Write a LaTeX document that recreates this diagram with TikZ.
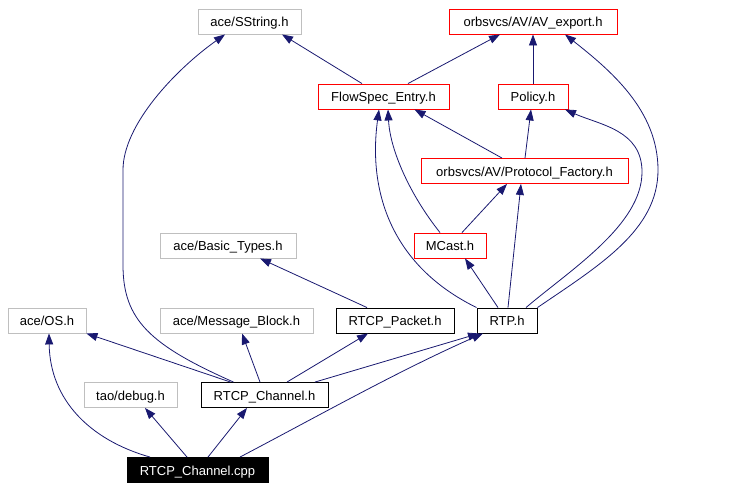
\documentclass[tikz,border=0pt]{standalone}
\usepackage{fontspec}
\setmainfont{Liberation Sans}
\usepackage{tikz}
\usetikzlibrary{arrows,arrows.meta}
\definecolor{edgeblue}{HTML}{191970}
\definecolor{boxgray}{HTML}{BFBFBF}
\tikzstyle{file} = [rectangle, minimum height=25pt, inner sep=0pt, text height=10.5pt, text depth=0pt, text centered, font=\fontsize{13}{15}\selectfont, line width=0.9pt]
\tikzstyle{sysfile} = [file, draw=boxgray]
\tikzstyle{avfile} = [file, draw=red]
\tikzstyle{localfile} = [file, draw=black]
\tikzstyle{thisfile} = [file, draw=black, fill=black, text=white]
\tikzstyle{arrow} = [edgeblue, line width=0.8pt, -{Triangle[length=11pt,width=8pt]}]

\begin{document}
\begin{tikzpicture}[x=1pt, y=-1pt]
    \useasboundingbox (0,0) rectangle (735,490);

    \node (sstring) [sysfile, minimum width=103pt] at (249.5,21.5) {ace/SString.h};
    \node (avexp) [avfile, minimum width=168pt] at (533,21.5) {orbsvcs/AV/AV\_export.h};

    \node (flowspec) [avfile, minimum width=131pt] at (383.5,96.5) {FlowSpec\_Entry.h};
    \node (policy) [avfile, minimum width=70pt] at (533,96.5) {Policy.h};

    \node (protfac) [avfile, minimum width=207pt] at (524.5,171) {orbsvcs/AV/Protocol\_Factory.h};

    \node (basic) [sysfile, minimum width=136pt] at (228,245.5) {ace/Basic\_Types.h};
    \node (mcast) [avfile, minimum width=72pt] at (450,245.5) {MCast.h};

    \node (os) [sysfile, minimum width=78pt] at (47,320.5) {ace/OS.h};
    \node (msgblk) [sysfile, minimum width=153pt] at (236.5,320.5) {ace/Message\_Block.h};
    \node (rtcppkt) [localfile, minimum width=118pt] at (395,320.5) {RTCP\_Packet.h};
    \node (rtp) [localfile, minimum width=60pt] at (507,320.5) {RTP.h};

    \node (debug) [sysfile, minimum width=93pt] at (130.5,395) {tao/debug.h};
    \node (rtcpch) [localfile, minimum width=127pt] at (264.5,395) {RTCP\_Channel.h};

    \node (cpp) [thisfile, minimum width=141pt] at (197.5,470) {RTCP\_Channel.cpp};

    % top rows
    \draw[arrow] ([xshift=-21.5pt]flowspec.north) -- ([xshift=32.5pt]sstring.south);
    \draw[arrow] ([xshift=24.5pt]flowspec.north) -- ([xshift=-33pt]avexp.south);
    \draw[arrow] (policy) -- (avexp);
    \draw[arrow] ([xshift=0.5pt]protfac.north) -- ([xshift=-2pt]policy.south);
    \draw[arrow] ([xshift=-22.5pt]protfac.north) -- ([xshift=31pt]flowspec.south);

    % MCast.h and RTP.h
    \draw[arrow] ([xshift=-10pt]mcast.north) .. controls (410,195) and (390,150) .. ([xshift=4.5pt]flowspec.south);
    \draw[arrow] ([xshift=12pt]mcast.north) -- ([xshift=-17.5pt]protfac.south);
    \draw[arrow] (rtp.north west) .. controls (390,265) and (368,190) .. ([xshift=-4.5pt]flowspec.south);
    \draw[arrow] ([xshift=1pt]rtp.north) -- ([xshift=-3.5pt]protfac.south);
    \draw[arrow] ([xshift=-9pt]rtp.north) -- ([xshift=15pt]mcast.south);
    \draw[arrow] ([xshift=19pt]rtp.north) .. controls (570,270) and (642,225) .. (642,172) .. controls (642,130) and (600,125) .. ([xshift=32pt]policy.south);
    \draw[arrow] (rtp.north east) .. controls (600,265) and (658,230) .. (658,170) .. controls (658,110) and (610,70) .. ([xshift=32pt]avexp.south);

    \draw[arrow] ([xshift=-28pt]rtcppkt.north) -- ([xshift=32pt]basic.south);

    % RTCP_Channel.h
    \draw[arrow] ([xshift=-31pt]rtcpch.north) .. controls (150,345) and (123,320) .. (123,265) -- (123,170) .. controls (123,125) and (175,70) .. ([xshift=-24.5pt]sstring.south);
    \draw[arrow] ([xshift=-34pt]rtcpch.north) -- (os.south east);
    \draw[arrow] ([xshift=-4.5pt]rtcpch.north) -- ([xshift=5.5pt]msgblk.south);
    \draw[arrow] ([xshift=22.5pt]rtcpch.north) -- ([xshift=-27pt]rtcppkt.south);
    \draw[arrow] ([xshift=50.5pt]rtcpch.north) -- ([xshift=-28pt]rtp.south);

    % RTCP_Channel.cpp
    \draw[arrow] ([xshift=-47.5pt]cpp.north) .. controls (90,440) and (50,400) .. ([xshift=2pt]os.south);
    \draw[arrow] ([xshift=-10.5pt]cpp.north) -- ([xshift=14.5pt]debug.south);
    \draw[arrow] ([xshift=10.5pt]cpp.north) -- ([xshift=-17.5pt]rtcpch.south);
    \draw[arrow] ([xshift=42.5pt]cpp.north) .. controls (320,415) and (400,370) .. ([xshift=-24pt]rtp.south);

\end{tikzpicture}
\end{document}
